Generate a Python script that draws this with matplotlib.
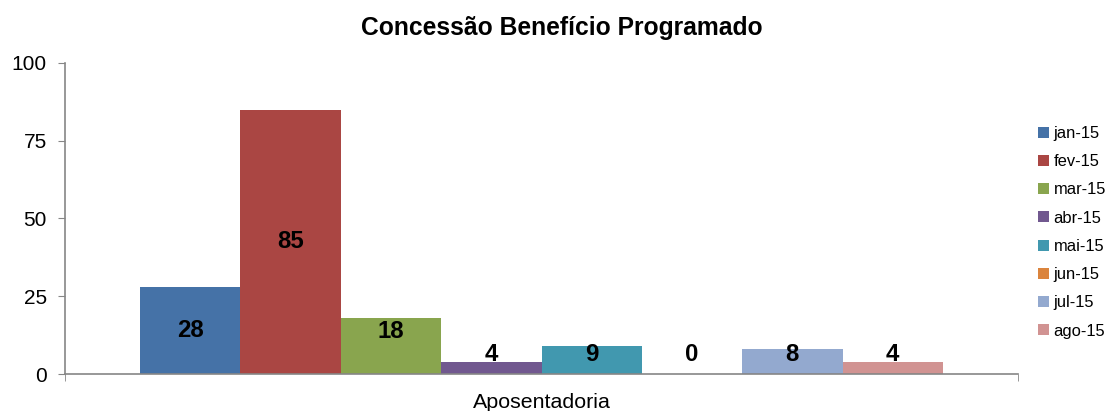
import matplotlib
matplotlib.use('Agg')
import matplotlib.pyplot as plt
from matplotlib.patches import Patch

plt.rcParams['font.family'] = ['Liberation Sans', 'DejaVu Sans']

# dados
category = 'Aposentadoria'
months = ['jan-15', 'fev-15', 'mar-15', 'abr-15', 'mai-15', 'jun-15', 'jul-15', 'ago-15']
values = [28, 85, 18, 4, 9, 0, 8, 4]
colors = ['#4572A7', '#AA4643', '#89A54E', '#71588F', '#4198AF', '#DB843D', '#93A9CF', '#D19392']

# posicao vertical dos rotulos (como no Excel)
label_y = [14, 42.5, 13.8, 6.4, 6.4, 6.4, 6.4, 6.4]

fig = plt.figure(figsize=(11.12, 4.11), dpi=100)
ax = fig.add_axes([65 / 1112, 1 - 374 / 411, (1018 - 65) / 1112, (374 - 63) / 411])

n = len(values)
group_w = 803 / 953
w = group_w / n
for i, (v, c) in enumerate(zip(values, colors)):
    x = -group_w / 2 + w * (i + 0.5)
    ax.bar(x, v, width=w, color=c, linewidth=0)
    ax.text(x, label_y[i], str(v), ha='center', va='center',
            fontsize=17.3, fontweight='bold', color='black')

ax.set_xlim(-0.5, 0.5)
ax.set_ylim(0, 100)
ax.set_yticks([0, 25, 50, 75, 100])
ax.set_xticks([0], [category])
ax.set_xticks([-0.5, 0.5], minor=True)

for s in ['top', 'right']:
    ax.spines[s].set_visible(False)
for s in ['left', 'bottom']:
    ax.spines[s].set_color('#868686')
    ax.spines[s].set_linewidth(1.2)

ax.tick_params(axis='y', length=5, color='#868686', labelsize=15, pad=8)
ax.tick_params(axis='x', which='major', length=0, labelsize=15.4, pad=14)
ax.tick_params(axis='x', which='minor', length=5, color='#868686')

fig.suptitle('Concessão Benefício Programado', fontsize=17.7, fontweight='bold',
             x=562 / 1112, y=1 - 28 / 411, va='center')

handles = [Patch(facecolor=c, edgecolor='none') for c in colors]
fig.legend(handles, months, loc='upper left', bbox_to_anchor=(1038 / 1112, 1 - 126 / 411),
           frameon=False, fontsize=11.9, handlelength=0.65, handleheight=0.65,
           handletextpad=0.3, labelspacing=0.8, borderaxespad=0, borderpad=0)

plt.savefig('out.png', dpi=100)
